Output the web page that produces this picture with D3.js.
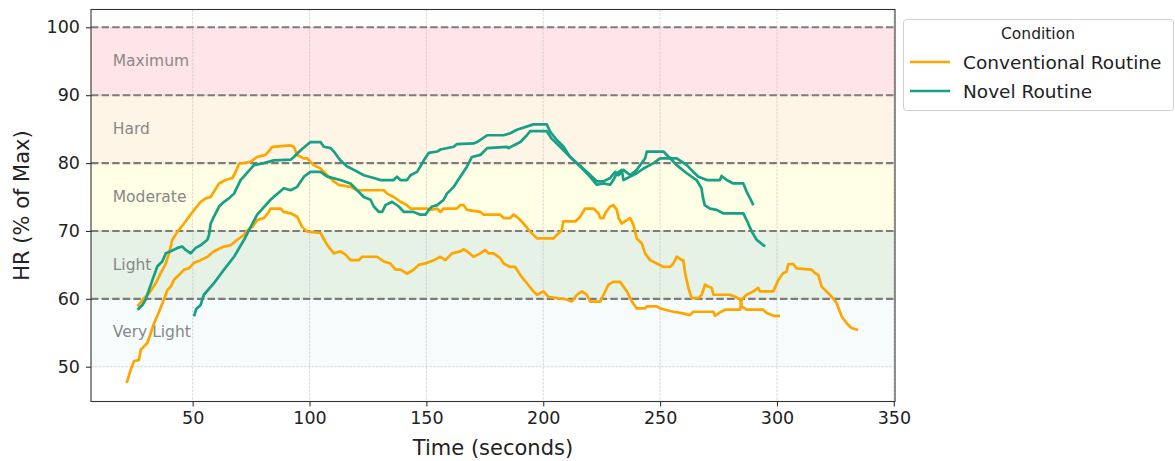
<!DOCTYPE html>
<html><head><meta charset="utf-8">
<script src="https://cdn.jsdelivr.net/npm/d3@7"></script>
<style>body{margin:0;background:#fff}svg{font-family:"DejaVu Sans",sans-serif}</style>
</head><body><svg id="c" width="1175" height="461"></svg>
<script>
// ---- data ----
const zoneNames = ["Very Light", "Light", "Moderate", "Hard", "Maximum"];
const zoneLower = [50, 60, 70, 80, 90];
const zoneUpper = [60, 70, 80, 90, 100];
const zoneColors = ["#f6fbfc", "#e5f2e5", "#ffffe5", "#fff5e6", "#ffe5e7"];
const zoneLines = [60, 70, 80, 90, 100];
const xTicks = [50, 100, 150, 200, 250, 300, 350];
const yTicks = [50, 60, 70, 80, 90, 100];
const seriesNames = ["Conventional Routine", "Novel Routine"];
const seriesColors = ["#ffa500", "#16a085"];

const conv1Time = [26.4,29.2,31.3,34.2,36.3,38.5,39.9,41.3,43.5,46.3,49.1,53.4,55.6,57.7,59.1,61.3,64.1,67,68.4,69.8,74.8,77.6,81.2,84.1,91.9,93.3,94.7,97.5,99,101.8,104.7,107.6,110.4,112.5,117.5,120.4,131.8,133.2,136,138.9,141.7,143.2,150.3,151.7,154.6,156,157.4,163.1,164.5,166,167.4,173.1,174.5,181.6,183,185.9,187.3,189.4,191.5,194.4,197.3,204.3,207.9,208.6,213.7,215.8,217.9,221.5,223.6,224.4,225.8,226.5,228.6,230,231.5,232.2,233.6,235.8,237.2,238.6,240,242.1,243.6,245.7,248.6,251.4,254.3,255.7,257.1,259.3,259.9,260.7,262.1,263.5,266.4,267.8,269.2,270.6,272.1,272.8,279.9,282.1,284.2,284.9,287,294.1,295.6,298.5,301.3];
const conv1HR = [58.9,60.1,60.8,62.3,63.8,65.2,66.7,68.7,69.9,71.1,72.4,74.3,74.8,75.0,75.8,77.0,77.5,77.8,78.7,79.9,80.2,80.9,81.2,82.4,82.6,82.4,81.2,80.7,80.7,79.7,79.2,78.2,77.3,76.8,76.5,76.0,76.0,75.5,75.0,74.3,73.8,73.3,73.3,73.1,73.3,72.8,73.3,73.3,73.8,73.8,73.1,72.8,72.4,72.4,71.9,71.9,72.4,71.9,71.1,69.9,68.9,68.9,70.1,71.4,71.4,72.1,73.3,73.3,72.6,71.9,71.9,72.6,73.6,73.8,73.1,71.9,71.1,71.6,71.9,70.9,68.9,68.2,66.7,65.7,65.2,64.7,64.7,65.2,66.2,65.7,65.7,63.8,61.6,60.1,60.1,60.6,62.1,61.8,61.6,60.6,60.6,60.3,59.9,58.9,58.4,58.4,57.9,57.5,57.5];

const conv2Time = [21.8,23.5,24.9,27,27.8,29.2,30.6,32.1,33.5,35.6,37.7,39.2,40.6,42,44.1,46.3,48.4,50.6,53.4,56.3,59.1,63.4,66.2,69.1,71.9,73.4,75.5,77.6,80.5,82.6,83.3,87.6,89,91.9,94.7,96.8,99,104.7,107.6,110.4,113.2,115.4,117.5,121.1,122.5,128.9,131.8,134.6,136.8,138.9,141.7,144.6,146.7,150.3,153.2,156,158.1,161,164.5,166,167.4,170.2,173.1,175.2,176.6,178.8,181.6,183,185.9,188,190.2,193,195.8,197.3,200.1,202.2,210.1,212.2,214.4,216.5,218.7,220.1,224.4,225.8,227.9,230,232.9,234.3,235.8,237.9,240,243.6,244.3,248.6,250,252.1,255.7,259.3,262.8,264.2,272.8,273.5,275.6,277.8,284.2,284.9,287,289.9,292,292.7,298.4,300.6,302.7,304.1,304.8,307,308.4,314.8,316.2,317.7,319.1,321.2,323.4,325.5,327.7,329.8,331.9,334.7];
const conv2HR = [47.6,49.6,50.8,51.0,52.5,53.0,53.5,55.0,56.4,58.1,59.9,61.3,61.8,62.8,63.5,64.3,64.5,65.3,65.7,66.2,67.0,67.7,67.9,68.7,69.4,70.1,70.6,71.6,71.9,72.8,73.3,73.3,72.8,72.6,72.1,70.6,69.9,69.7,67.9,66.7,67.0,66.5,65.7,65.7,66.2,66.2,65.5,65.2,64.3,64.3,63.7,64.3,65.0,65.3,65.7,66.2,65.7,66.7,67.0,67.3,67.0,66.2,66.7,67.2,66.7,66.7,66.0,65.2,64.7,64.7,63.5,62.3,61.1,60.6,61.1,60.3,59.9,59.6,60.6,61.1,60.6,59.6,59.6,60.6,62.1,62.5,62.5,61.8,61.1,59.6,58.6,58.6,58.9,58.9,58.6,58.4,58.1,57.9,57.6,58.1,58.1,57.5,58.0,58.4,58.4,59.9,60.6,61.1,61.6,61.1,61.1,62.8,63.8,64.0,65.1,65.1,64.5,64.3,63.8,63.5,61.8,61.1,60.3,59.4,57.4,56.4,55.7,55.4];

const novel1Time = [26.4,28.5,29.9,31.3,32.8,34.9,37,38.5,40.6,43.5,45.6,47,49.1,51.3,53.4,56.3,57,57.7,59.1,61.3,63.4,65.5,67.7,70.5,76.2,80.5,84.7,91.9,93.3,96.2,100.4,104.7,106.1,109,110.4,113.2,116.1,119,123.2,127.5,130.3,136,137.4,138.9,141.7,143.2,146,147.4,148.9,151,154.6,156,161.7,163.1,170.2,171.7,176,183,185.9,188.7,195.8,201.5,203,205.8,208.7,211.5,214.4,218.7,223,225.8,228.6,230.8,232.2,234.3,237.2,240,243.6,244.3,251.4,254.3,257.1,261.4,265.6,267.7,268.4,269.1,271.3,274.2,277,285.6,287.7,289.2,291.3,294.9];
const novel1HR = [58.4,59.1,59.9,61.3,62.8,64.8,65.5,66.7,67.0,67.5,67.7,67.2,66.7,67.5,67.9,68.7,69.4,71.1,72.1,73.6,74.3,74.8,75.5,77.5,79.7,80.0,80.4,80.5,80.9,81.9,83.1,83.1,82.4,82.2,81.7,80.4,79.5,79.0,78.2,77.8,77.5,77.5,78.0,77.5,77.5,78.2,78.7,79.5,80.4,81.5,81.7,82.0,82.4,82.8,82.9,83.1,84.1,84.1,84.4,84.9,85.7,85.7,84.6,83.4,82.4,80.9,80.0,78.7,77.3,77.3,77.8,78.7,78.2,79.0,78.2,79.0,80.7,81.7,81.7,80.7,79.7,78.5,77.5,76.3,74.8,73.8,73.3,73.1,72.6,72.6,71.1,69.9,68.7,67.7];

const novel2Time = [50.6,51.5,53.4,54.8,59.1,63.4,67.7,72,74.8,77.6,83.3,89,91.9,94.7,97.6,100.4,104.7,107.6,113.2,117.5,120.4,123.2,126.1,127.5,129.7,131.1,132.5,135.3,138.2,140.3,144.6,147.4,149.6,151,152.4,154.6,157.4,158.8,161.7,164.5,167.4,169.5,173.1,176,184.5,185.2,187.3,190.2,193,194.4,201.5,203.6,207.2,211.5,215.8,220,222.9,225.8,228.6,230,231.5,233.6,234.3,237.2,240,242.9,247.2,250,257.1,261.4,264.2,266.4,270,275.6,276.3,278.5,281.3,285.6,287,288.5,289.9];
const novel2HR = [57.4,58.5,59.1,60.6,62.3,64.3,66.2,68.7,70.6,72.4,74.6,76.3,76.0,76.5,78.0,78.7,78.7,78.0,77.5,77.0,76.0,75.0,74.6,73.6,72.8,72.8,73.8,74.3,73.6,72.8,72.8,72.4,72.4,73.1,73.6,73.8,74.6,75.5,76.5,78.0,79.5,80.9,81.2,82.2,82.4,82.2,82.6,83.1,84.1,84.7,84.7,83.6,82.4,80.9,79.5,78.0,76.8,77.0,76.8,77.5,78.5,79.0,77.5,78.0,78.5,79.2,80.0,80.7,80.7,79.7,78.7,78.0,77.5,77.5,78.1,77.5,77.0,77.0,75.8,74.8,73.8];

// ---- chart ----
const svg = d3.select("#c");
const L = 91, R = 895, T = 9.5, B = 401.5;
const x = d3.scaleLinear().domain([6.5, 350.5]).range([L, R]);
const y = d3.scaleLinear().domain([44.875, 102.625]).range([B, T]);

// zone bands
svg.append("g").selectAll("rect").data(zoneNames).join("rect")
  .attr("x", L).attr("width", R - L)
  .attr("y", (d, i) => y(zoneUpper[i]))
  .attr("height", (d, i) => y(zoneLower[i]) - y(zoneUpper[i]))
  .attr("fill", (d, i) => zoneColors[i]);

// grid
const grid = svg.append("g").attr("stroke", "#c8c8c8").attr("stroke-width", 0.7).attr("stroke-dasharray", "2.6,1.2");
grid.selectAll(".gx").data(xTicks).join("line")
  .attr("x1", d => x(d)).attr("x2", d => x(d)).attr("y1", T).attr("y2", B);
grid.selectAll(".gy").data(yTicks).join("line")
  .attr("y1", d => y(d)).attr("y2", d => y(d)).attr("x1", L).attr("x2", R);

// zone dashed boundaries
svg.append("g").selectAll("line").data(zoneLines).join("line")
  .attr("x1", L).attr("x2", R).attr("y1", d => y(d)).attr("y2", d => y(d))
  .attr("stroke", "#7c7c7c").attr("stroke-width", 2.1).attr("stroke-dasharray", "7.4,3.2");

// zone labels
svg.append("g").selectAll("text").data(zoneNames).join("text")
  .attr("x", x(15.8))
  .attr("y", (d, i) => y((zoneLower[i] + zoneUpper[i]) / 2))
  .attr("dy", "0.3em")
  .attr("font-size", 15.5).attr("fill", "#888")
  .text(d => d);

// lines
const line = d3.line().x(d => x(d[0])).y(d => y(d[1]));
const series = [
  [d3.zip(conv1Time, conv1HR), 0],
  [d3.zip(conv2Time, conv2HR), 0],
  [d3.zip(novel1Time, novel1HR), 1],
  [d3.zip(novel2Time, novel2HR), 1]
];
svg.append("g").selectAll("path").data(series).join("path")
  .attr("d", d => line(d[0]))
  .attr("fill", "none")
  .attr("stroke", d => seriesColors[d[1]])
  .attr("stroke-width", 2.7)
  .attr("stroke-linejoin", "round");

// frame
svg.append("rect").attr("x", L).attr("y", T).attr("width", R - L).attr("height", B - T)
  .attr("fill", "none").attr("stroke", "#333").attr("stroke-width", 1.1);

// axes
const xa = svg.append("g").attr("transform", `translate(0,${B})`)
  .call(d3.axisBottom(x).tickValues(xTicks).tickSize(5).tickPadding(5).tickFormat(d3.format("d")));
const ya = svg.append("g").attr("transform", `translate(${L},0)`)
  .call(d3.axisLeft(y).tickValues(yTicks).tickSize(5).tickPadding(6).tickFormat(d3.format("d")));
[xa, ya].forEach(a => {
  a.select(".domain").remove();
  a.selectAll("line").attr("stroke", "#333").attr("stroke-width", 1.1);
  a.selectAll("text").attr("font-size", 17.5).attr("fill", "#222").attr("font-family", "DejaVu Sans");
});

// axis labels
svg.append("text").attr("x", (L + R) / 2).attr("y", 455).attr("text-anchor", "middle")
  .attr("font-size", 21).attr("fill", "#222").text("Time (seconds)");
svg.append("text").attr("transform", `translate(29,${(T + B) / 2}) rotate(-90)`).attr("text-anchor", "middle")
  .attr("font-size", 21).attr("fill", "#222").text("HR (% of Max)");

// legend
const lg = svg.append("g");
lg.append("rect").attr("x", 903.5).attr("y", 19.5).attr("width", 270).attr("height", 91)
  .attr("rx", 3).attr("fill", "#fff").attr("stroke", "#d0d0d0");
lg.append("text").attr("x", 1038).attr("y", 38.5).attr("text-anchor", "middle")
  .attr("font-size", 15.5).attr("fill", "#222").text("Condition");
seriesNames.forEach((n, i) => {
  const yy = 62 + i * 29;
  lg.append("line").attr("x1", 910).attr("x2", 950).attr("y1", yy).attr("y2", yy)
    .attr("stroke", seriesColors[i]).attr("stroke-width", 2.7);
  lg.append("text").attr("x", 963).attr("y", yy).attr("dy", "0.36em")
    .attr("font-size", 18.5).attr("fill", "#222").text(n);
});
</script></body></html>
